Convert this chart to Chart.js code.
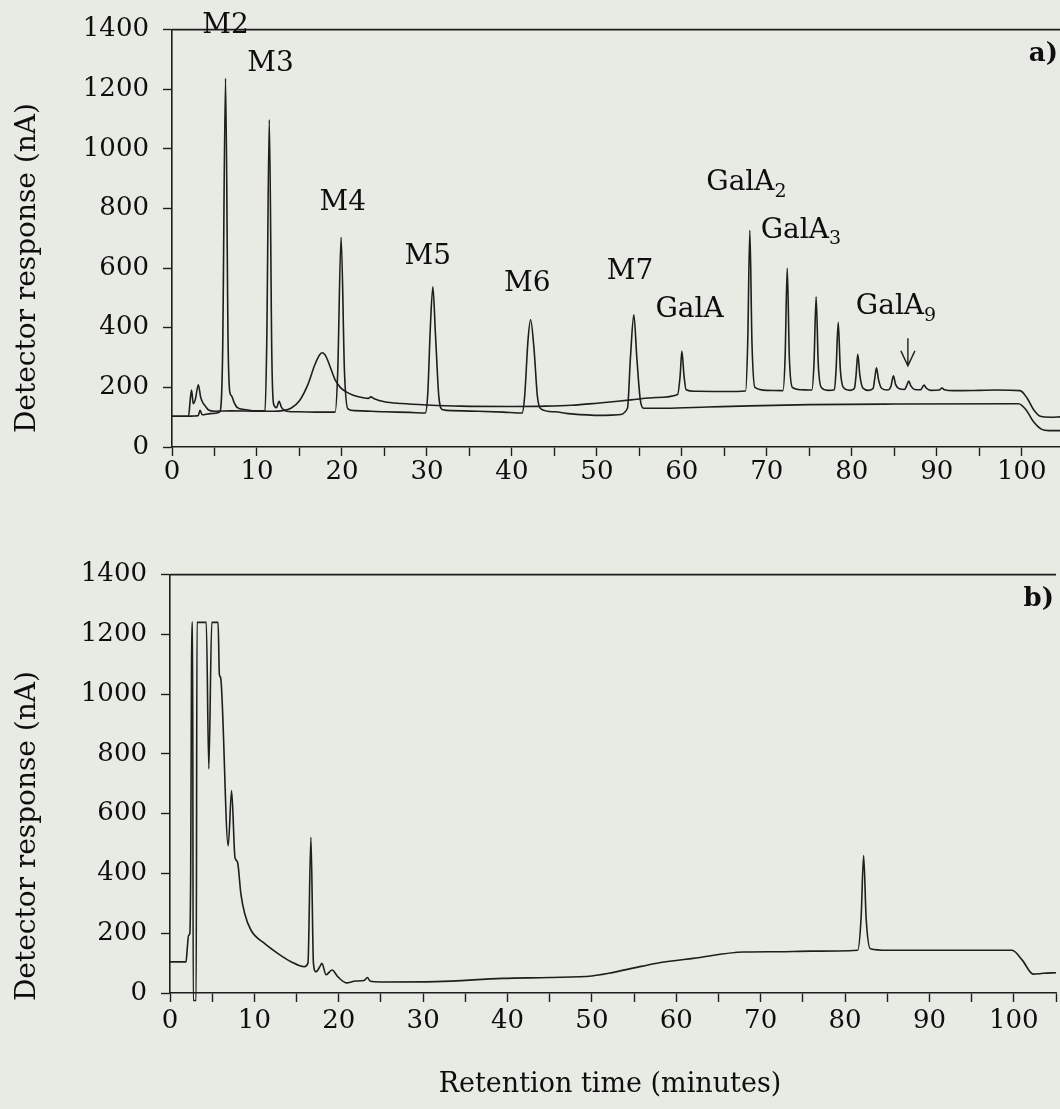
<!DOCTYPE html>
<html>
<head>
<meta charset="utf-8">
<title>HPAEC chromatograms</title>
<script src="https://cdn.jsdelivr.net/npm/chart.js@4.4.0/dist/chart.umd.min.js"></script>
<style>
  html, body { margin: 0; padding: 0; background: #e8ebe4; }
  #wrap { position: relative; width: 1060px; height: 1109px; overflow: hidden; }
  canvas { position: absolute; left: 0; }
  #chart-a { top: 0; }
  #chart-b { top: 545px; }
</style>
</head>
<body>
<div id="wrap">
  <canvas id="chart-a" width="1060" height="545"></canvas>
  <canvas id="chart-b" width="1060" height="564"></canvas>
</div>
<script>
// retention time (min) and detector response (nA)

// a) maltooligosaccharide standards M2..M7
const stdTime = [0, 1.8, 2.6, 3.1, 3.3, 3.55, 4.5, 5.6, 5.95, 6.3, 6.6, 6.8, 7.0, 7.3, 7.7, 8.5, 10.0, 10.95,
  11.15, 11.45, 11.75, 11.95, 12.3, 12.6, 12.9, 13.5, 15.0, 17.0, 19.2, 19.5, 19.9, 20.3, 20.7, 21.5, 25.0,
  28.0, 29.8, 30.1, 30.4, 30.7, 31.0, 31.4, 31.8, 33.0, 36.0, 39.0, 41.2, 41.5, 41.9, 42.2, 42.6, 43.0, 43.4,
  45.0, 47.0, 50.5, 52.5, 53.6, 53.95, 54.35, 54.7, 55.1, 55.5, 58.0, 63.0, 68.0, 75.0, 85.0, 99.6, 100.5,
  101.3, 102.3, 103.2, 104.5];
const stdResp = [103, 103, 104, 106, 123, 108, 112, 117, 300, 1237, 350, 185, 172, 150, 132, 126, 121, 122,
  350, 1098, 300, 145, 132, 153, 132, 120, 118, 117, 117, 250, 703, 250, 128, 122, 118,
  116, 114, 180, 400, 537, 380, 170, 126, 122, 120, 117, 114, 170, 360, 427, 330, 170, 128,
  118, 111, 106, 108, 130, 300, 443, 300, 160, 130, 130, 134, 138, 142, 144, 145, 125,
  88, 60, 55, 55];

// a) galacturonic acid oligomers GalA..GalA9
const galTime = [0, 1.95, 2.15, 2.3, 2.5, 2.75, 3.1, 3.35, 3.6, 3.85, 4.3, 5.0, 7.0, 10.0, 12.0, 13.0, 14.0,
  15.0, 16.0, 16.8, 17.4, 17.7, 18.1, 18.6, 19.2, 19.8, 20.5, 21.5, 22.5, 23.1, 23.4, 23.8, 25.0, 27.0, 30.0,
  34.0, 40.0, 44.0, 47.0, 50.0, 54.0, 57.0, 59.5, 59.8, 60.0, 60.25, 60.5, 61.5, 65.0, 67.5, 67.75, 68.0,
  68.25, 68.6, 70.0, 71.9, 72.15, 72.4, 72.65, 73.0, 74.0, 75.3, 75.55, 75.8, 76.05, 76.4, 77.2, 77.95, 78.15,
  78.4, 78.65, 79.0, 79.8, 80.3, 80.5, 80.7, 80.95, 81.3, 82.0, 82.5, 82.7, 82.9, 83.15, 83.5, 84.2, 84.6,
  84.9, 85.15, 85.6, 86.2, 86.45, 86.7, 86.95, 87.4, 88.1, 88.3, 88.5, 88.75, 89.3, 90.3, 90.6, 90.9, 92.0,
  95.0, 97.0, 99.8, 100.6, 101.4, 102.2, 103.5, 104.5];
const galResp = [103, 104, 160, 191, 145, 160, 209, 170, 150, 140, 124, 120, 121, 120, 120, 122, 130,
  155, 210, 275, 310, 316, 305, 270, 225, 200, 185, 172, 165, 163, 168, 162, 152, 146, 141,
  137, 136, 137, 140, 147, 158, 166, 176, 240, 322, 240, 192, 187, 186, 188, 350, 727,
  350, 200, 190, 189, 300, 600, 300, 200, 192, 191, 280, 504, 280, 200, 190, 192, 260,
  418, 260, 200, 190, 196, 240, 311, 240, 198, 190, 196, 230, 266, 225, 197, 191, 203,
  239, 210, 195, 193, 205, 221, 205, 193, 192, 200, 208, 198, 190, 191, 198, 192, 189,
  190, 191, 189, 165, 125, 103, 100, 101];

// b) second run
const bTime = [0, 1.9, 2.05, 2.2, 2.35, 2.45, 2.55, 2.6, 2.68, 2.75, 3.1, 3.2, 4.3, 4.6, 4.95, 5.7, 5.85, 6.0,
  6.9, 7.3, 7.7, 8.0, 8.4, 8.85, 9.6, 11.2, 12.8, 14.4, 15.9, 16.35, 16.7, 17.0, 17.3, 17.8, 18.0, 18.5,
  19.2, 19.9, 20.9, 22.0, 23.0, 23.4, 23.7, 25.0, 31.5, 39.4, 45.0, 50.0, 52.0, 56.0, 58.0, 62.0, 68.0,
  72.0, 76.0, 81.5, 81.9, 82.2, 82.5, 83.0, 85.0, 99.8, 101.0, 102.3, 103.5, 105.0];
const bResp = [104, 104, 150, 193, 200, 400, 1088, 1240, 1240, -25, -25, 1240, 1240, 750, 1240, 1240, 1066, 1055,
  493, 677, 454, 438, 332, 266, 210, 166, 132, 104, 88, 100, 521, 99, 71, 90, 99, 61,
  77, 54, 34, 40, 42, 52, 40, 37, 38, 49, 52, 57, 66, 90, 101, 116, 137,
  138, 140, 143, 250, 460, 250, 148, 143, 143, 110, 63, 66, 68];

// axis ticks
const yTickValues = [0, 200, 400, 600, 800, 1000, 1200, 1400];
const xLabelStep = 10;
const xMinorStep = 5;

// peak names above the trace
const peakNames = ['M2', 'M3', 'M4', 'M5', 'M6', 'M7', 'GalA', 'GalA', 'GalA', 'GalA'];
const peakSubs = ['', '', '', '', '', '', '', '2', '3', '9'];

const INK = '#1e1e1e';
const TEXT = '#0e0e0e';
const FONT = "'DejaVu Serif', serif";

// where each peak name sits, in (min, nA)
const nameSpots = [[6.3, 1412], [11.6, 1284], [20.1, 820], [30.1, 637], [41.8, 547], [53.9, 587],
  [60.9, 461], [67.6, 886], [74.0, 727], [85.2, 471]];

const pts = (xs, ys) => xs.map((x, i) => ({ x: x, y: ys[i] }));

const decor = {
  id: 'decor',
  afterDraw(chart, args, o) {
    const { ctx, chartArea: a, scales: { x, y } } = chart;
    ctx.save();
    // top frame line
    ctx.strokeStyle = INK;
    ctx.lineWidth = 1.6;
    ctx.beginPath();
    ctx.moveTo(a.left, a.top);
    ctx.lineTo(a.right, a.top);
    ctx.stroke();

    ctx.fillStyle = TEXT;
    ctx.textBaseline = 'middle';

    (o.names || []).forEach(i => {
      const px = x.getPixelForValue(nameSpots[i][0]);
      const py = y.getPixelForValue(nameSpots[i][1]);
      ctx.font = '28px ' + FONT;
      const w = ctx.measureText(peakNames[i]).width;
      ctx.font = '19px ' + FONT;
      const sw = peakSubs[i] ? ctx.measureText(peakSubs[i]).width : 0;
      const left = px - (w + sw) / 2;
      ctx.font = '28px ' + FONT;
      ctx.textAlign = 'left';
      ctx.fillText(peakNames[i], left, py);
      if (peakSubs[i]) {
        ctx.font = '19px ' + FONT;
        ctx.fillText(peakSubs[i], left + w, py + 9);
      }
    });

    if (o.arrowAt) {
      const ax = x.getPixelForValue(o.arrowAt[0]);
      const y0 = y.getPixelForValue(o.arrowAt[1]);
      const y1 = y.getPixelForValue(o.arrowAt[2]);
      ctx.lineWidth = 1.4;
      ctx.beginPath();
      ctx.moveTo(ax, y0);
      ctx.lineTo(ax, y1);
      ctx.moveTo(ax - 7, y1 - 15);
      ctx.lineTo(ax, y1);
      ctx.lineTo(ax + 7, y1 - 15);
      ctx.stroke();
    }

    // panel letter
    ctx.font = 'bold 26px ' + FONT;
    ctx.textAlign = 'right';
    ctx.fillText(o.letter, a.right - 2, a.top + 25);

    // axis titles
    ctx.font = '28px ' + FONT;
    ctx.textAlign = 'center';
    ctx.save();
    ctx.translate(28, y.getPixelForValue(o.yTitleAt));
    ctx.rotate(-Math.PI / 2);
    ctx.fillText('Detector response (nA)', 0, 0);
    ctx.restore();
    if (o.xTitle) {
      ctx.font = '27px ' + FONT;
      ctx.fillText(o.xTitle, (a.left + a.right) / 2 - 3, a.bottom + 92);
    }
    ctx.restore();
  }
};

function panel(id, series, set) {
  return new Chart(document.getElementById(id), {
    type: 'line',
    data: {
      datasets: series.map(s => ({
        data: pts(s[0], s[1]),
        borderColor: INK,
        borderWidth: 1.6,
        pointRadius: 0,
        fill: false,
        cubicInterpolationMode: 'monotone',
        clip: false
      }))
    },
    options: {
      responsive: false,
      animation: false,
      events: [],
      layout: { padding: { top: set.top, left: 0, right: 0, bottom: 0 } },
      plugins: {
        legend: { display: false },
        tooltip: { enabled: false },
        decor: set.decor
      },
      scales: {
        x: {
          type: 'linear',
          min: 0,
          max: set.xMax,
          border: { color: INK, width: 1.6 },
          grid: { drawOnChartArea: false, tickLength: 9, tickColor: INK, tickWidth: 1.4 },
          ticks: {
            stepSize: xMinorStep,
            includeBounds: false,
            autoSkip: false,
            maxRotation: 0,
            padding: set.xPad,
            color: TEXT,
            font: { family: FONT, size: 26 },
            callback: v => (v % xLabelStep === 0 ? String(v) : '')
          },
          afterFit: s => { s.height = set.xHeight; }
        },
        y: {
          min: 0,
          max: 1400,
          border: { color: INK, width: 1.6 },
          grid: { drawOnChartArea: false, tickLength: 9, tickColor: INK, tickWidth: 1.4 },
          afterBuildTicks: s => { s.ticks = yTickValues.map(v => ({ value: v })); },
          ticks: {
            padding: 14,
            color: TEXT,
            font: { family: FONT, size: 26 },
            callback: v => String(v)
          },
          afterFit: s => { s.width = set.yWidth; }
        }
      }
    },
    plugins: [decor]
  });
}

panel('chart-a', [[stdTime, stdResp], [galTime, galResp]], {
  top: 25, xHeight: 98, yWidth: 172, xMax: 104.5, xPad: 1,
  decor: { names: [0, 1, 2, 3, 4, 5, 6, 7, 8, 9], arrowAt: [86.6, 365, 272], letter: 'a)', yTitleAt: 600 }
});

panel('chart-b', [[bTime, bResp]], {
  top: 27, xHeight: 116, yWidth: 170, xMax: 105, xPad: 4,
  decor: { letter: 'b)', yTitleAt: 525, xTitle: 'Retention time (minutes)' }
});
</script>
</body>
</html>
